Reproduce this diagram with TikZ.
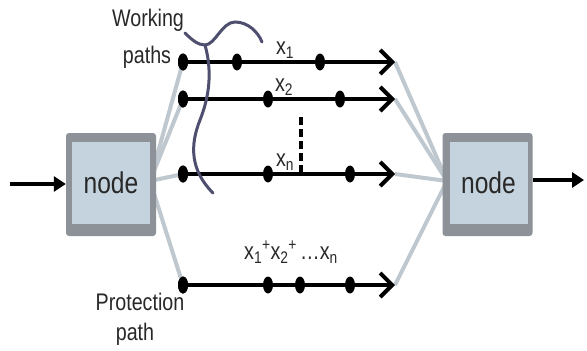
\documentclass[tikz,border=0pt]{standalone}
\usepackage{fontspec}
\setmainfont{Liberation Sans}
\usetikzlibrary{arrows.meta,shapes.geometric}
\definecolor{fan}{RGB}{190,200,206}
\definecolor{boxedge}{RGB}{140,146,152}
\definecolor{boxfill}{RGB}{196,211,221}
\definecolor{scribble}{RGB}{78,78,110}
\definecolor{txt}{RGB}{40,40,40}
\newcommand\narrowtxt[1]{\scalebox{0.82}[1]{#1}}
\begin{document}
\begin{tikzpicture}[x=1pt,y=-1pt,
  dot/.style={ellipse,fill=black,minimum width=10pt,minimum height=17pt,inner sep=0pt},
  pathline/.style={line width=4pt,-{Straight Barb[length=12pt,width=24pt]}},
  fanline/.style={line width=4pt,fan},
  lbl/.style={font=\fontsize{24}{26}\selectfont,text=txt,inner sep=0pt},
  nodetext/.style={font=\fontsize{30}{32}\selectfont,text=txt,inner sep=0pt},
  outerbox/.style={fill=boxedge,rounded corners=3pt,minimum width=90pt,minimum height=103pt,inner sep=0pt},
  innerbox/.style={fill=boxfill,minimum width=78pt,minimum height=82pt,inner sep=0pt},
  ioarrow/.style={line width=4pt,-{Triangle[length=12pt,width=15pt]}},
  ]
\useasboundingbox (0,0) rectangle (587,351);

% fan-in / fan-out points
\coordinate (fl) at (150,181);
\coordinate (fr) at (447,181);

% arrow tips
\coordinate (e1) at (395,62);
\coordinate (e2) at (395,99);
\coordinate (en) at (395,174);
\coordinate (ep) at (395,285);

% dots
\node[dot] (a0) at (183,62) {};
\node[dot] (b0) at (183,99) {};
\node[dot] (c0) at (183,174) {};
\node[dot] (d0) at (183,285) {};

% fans (drawn first)
\draw[fanline] (fl) -- (a0.center);
\draw[fanline] (fl) -- (b0.center);
\draw[fanline] (fl) -- (c0.center);
\draw[fanline] (fl) -- (d0.center);
\draw[fanline] (e1) -- (fr);
\draw[fanline] (e2) -- (fr);
\draw[fanline] (en) -- (fr);
\draw[fanline] (ep) -- (fr);

% boxes
\node[outerbox] (Lout) at (111,184.5) {};
\node[innerbox,nodetext] (L) at (111,183) {\narrowtxt{node}};
\node[outerbox] (Rout) at (487.5,184.5) {};
\node[innerbox,nodetext] (R) at (488.5,183) {\narrowtxt{node}};

% in / out arrows
\coordinate (inS) at (10,184);
\draw[ioarrow] (inS) -- (inS -| Lout.west);
\coordinate (outE) at (584,180);
\draw[ioarrow] (outE -| Rout.east) -- (outE);

% working and protection paths
\draw[pathline] (a0.center) -- (e1);
\draw[pathline] (b0.center) -- (e2);
\draw[pathline] (c0.center) -- (en);
\draw[pathline] (d0.center) -- (ep);

\node[dot] at (a0) {};
\node[dot] at (b0) {};
\node[dot] at (c0) {};
\node[dot] at (d0) {};
\node[dot] (a1) at (237,62) {};
\node[dot] (a2) at (320,62) {};
\node[dot] (b1) at (268,99) {};
\node[dot] (b2) at (340,99) {};
\node[dot] (c1) at (268,174) {};
\node[dot] (c2) at (350,174) {};
\node[dot] (d1) at (268,285) {};
\node[dot] (d2) at (300,285) {};
\node[dot] (d3) at (350,285) {};

% dashed ellipsis line
\coordinate (dt) at (301,117);
\coordinate (db) at (301,172);
\draw[line width=4pt,dash pattern=on 8pt off 4pt] (dt) -- (db);

% labels
\node[lbl] (lx1) at (285,50) {\narrowtxt{x\textsubscript{1}}};
\node[lbl] (lx2) at (284,87) {\narrowtxt{x\textsubscript{2}}};
\node[lbl] (lxn) at (285,162) {\narrowtxt{x\textsubscript{n}}};
\node[lbl] (lsum) at (291,252) {\narrowtxt{x\textsubscript{1}\textsuperscript{+}x\textsubscript{2}\textsuperscript{+}\,\dots x\textsubscript{n}}};
\node[lbl] (lw1) at (148,20) {\narrowtxt{Working}};
\node[lbl] (lw2) at (147,57) {\narrowtxt{paths}};
\node[lbl] (lp1) at (140,302) {\narrowtxt{Protection}};
\node[lbl] (lp2) at (135,334) {\narrowtxt{path}};

% scribble
\draw[scribble,line width=3pt,line cap=round]
  (185,33) .. controls (192,40) and (198,45) .. (205,45)
  .. controls (215,45) and (222,22) .. (235,22)
  .. controls (248,22) and (258,32) .. (262,42);
\draw[scribble,line width=3pt,line cap=round]
  (205,45) .. controls (212,70) and (210,95) .. (200,120)
  .. controls (190,145) and (190,170) .. (213,193);
\end{tikzpicture}
\end{document}
